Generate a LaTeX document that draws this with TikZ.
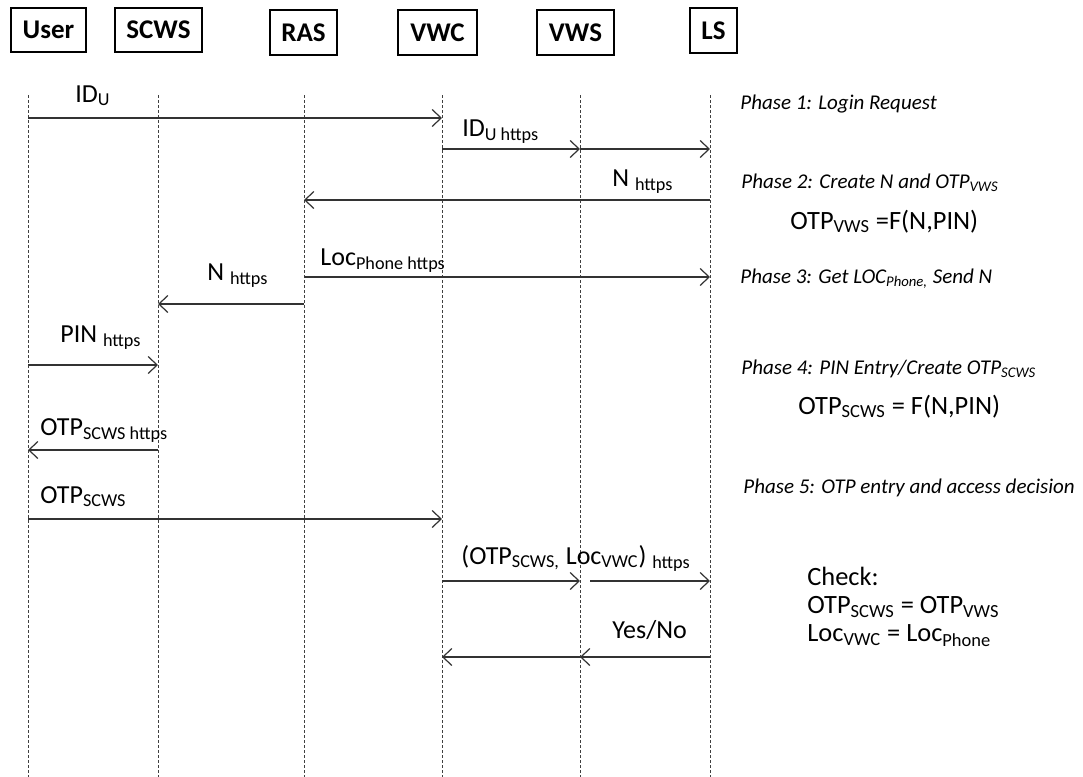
\documentclass[tikz,border=0pt]{standalone}
\usepackage{fontspec}
\setmainfont{Carlito}
\usetikzlibrary{arrows.meta, positioning, calc}
\tikzset{
  actor/.style={draw, line width=0.65pt, inner sep=0pt,
    font=\bfseries\fontsize{13.5}{15}\selectfont},
  life/.style={draw=black!75, line width=0.5pt, dash pattern=on 1.5pt off 1pt},
  msg/.style={-{Straight Barb[length=4.5pt, width=8.5pt]}, line width=0.6pt, draw=black!80},
  lbl/.style={anchor=base west, inner sep=0pt, font=\fontsize{13}{15}\selectfont},
  phase/.style={anchor=base west, inner sep=0pt, font=\itshape\fontsize{10.5}{12}\selectfont},
  eqn/.style={anchor=base west, inner sep=0pt, font=\fontsize{13.2}{14}\selectfont},
}
\newcommand{\sub}[1]{\textsubscript{#1}}

\begin{document}
\begin{tikzpicture}[x=0.5pt, y=-0.5pt]
  \useasboundingbox (0,0) rectangle (1083,777);

  % parties
  \node[actor, minimum width=37.5pt, minimum height=22pt] (user) at (48.5,30) {User};
  \node[actor, minimum width=43.5pt, minimum height=22pt] (scws) at (158.5,30) {SCWS};
  \node[actor, minimum width=33.5pt, minimum height=22.5pt] (ras) at (303.5,32.5) {RAS};
  \node[actor, minimum width=39.5pt, minimum height=22.5pt] (vwc) at (437.5,32.5) {VWC};
  \node[actor, minimum width=38.5pt, minimum height=22.5pt] (vws) at (575.5,32.5) {VWS};
  \node[actor, minimum width=23.5pt, minimum height=22.5pt] (ls) at (713.5,30.5) {LS};

  % life lines
  \foreach \n/\x in {U/28, C/158, R/304, W/442, V/580, L/710} {
    \coordinate (top\n) at (\x,95);
    \coordinate (bot\n) at (\x,777);
    \draw[life] (top\n) -- (bot\n);
  }

  % message heights
  \foreach \m/\y in {1/118, 2/149, 3/200, 4/277, 5/304, 6/365, 7/450, 8/519, 9/581, 10/657}
    \coordinate (m\m) at (0,\y);

  % Phase 1
  \draw[msg] (topU |- m1) -- (topW |- m1);
  \node[lbl] (l1) at (75,102) {ID\sub{U}};
  \draw[msg] (topW |- m2) -- (topV |- m2);
  \draw[msg] (topV |- m2) -- (topL |- m2);
  \node[lbl] (l2) at (462,136) {ID\sub{U https}};
  \node[phase] (p1) at (740,109) {Phase 1: Login Request};

  % Phase 2
  \draw[msg] (topL |- m3) -- (topR |- m3);
  \node[lbl] (l3) at (612,186) {N \sub{https}};
  \node[phase] (p2) at (741,188) {Phase 2: Create N and OTP\sub{VWS}};
  \node[eqn] (e2) at (790,229) {OTP\sub{VWS} =F(N,PIN)};

  % Phase 3
  \draw[msg] (topR |- m4) -- (topL |- m4);
  \node[lbl] (l4) at (320,265) {Loc\sub{Phone https}};
  \draw[msg] (topR |- m5) -- (topC |- m5);
  \node[lbl] (l5) at (207,280) {N \sub{https}};
  \node[phase] (p3) at (740,283) {Phase 3: Get LOC\sub{Phone,} Send N};

  % Phase 4
  \draw[msg] (topU |- m6) -- (topC |- m6);
  \node[lbl] (l6) at (60,342) {PIN \sub{https}};
  \draw[msg] (topC |- m7) -- (topU |- m7);
  \node[lbl] (l7) at (40,435) {OTP\sub{SCWS https}};
  \node[phase] (p4) at (741,374) {Phase 4: PIN Entry/Create OTP\sub{SCWS}};
  \node[eqn] (e4) at (798,414) {OTP\sub{SCWS} = F(N,PIN)};

  % Phase 5
  \draw[msg] (topU |- m8) -- (topW |- m8);
  \node[lbl] (l8) at (40,503) {OTP\sub{SCWS}};
  \draw[msg] (topW |- m9) -- (topV |- m9);
  \draw[msg, shorten <=5pt] (topV |- m9) -- (topL |- m9);
  \node[lbl] (l9) at (461,564) {(OTP\sub{SCWS,} Loc\sub{VWC}) \sub{https}};
  \draw[msg] (topL |- m10) -- (topV |- m10);
  \draw[msg] (topV |- m10) -- (topW |- m10);
  \node[lbl] (l10) at (612,638) {Yes/No};
  \node[phase] (p5) at (743,493) {Phase 5: OTP entry and access decision};
  \node[eqn, anchor=north west, align=left] (chk) at (807,567)
    {Check:\\OTP\sub{SCWS} = OTP\sub{VWS}\\Loc\sub{VWC} = Loc\sub{Phone}};
\end{tikzpicture}
\end{document}
